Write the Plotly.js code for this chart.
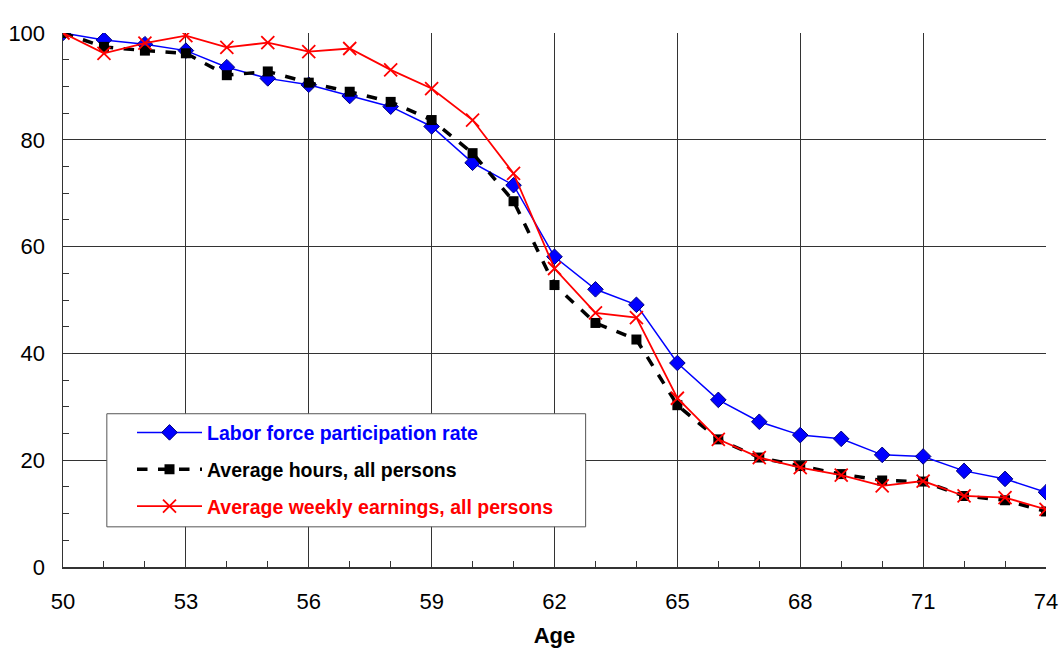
<!DOCTYPE html>
<html><head><meta charset="utf-8">
<script src="https://cdn.plot.ly/plotly-3.0.1.min.js"></script>
<style>html,body{margin:0;padding:0;background:#fff}#chart{width:1060px;height:654px}</style>
</head><body><div id="chart"></div>
<script>
const ages = [50,51,52,53,54,55,56,57,58,59,60,61,62,63,64,65,66,67,68,69,70,71,72,73,74];
const laborForce = [100,98.7,97.9,96.7,93.6,91.5,90.3,88.2,86.2,82.5,75.7,71.5,58.1,52.0,49.1,38.2,31.3,27.2,24.7,24.0,21.0,20.7,18.0,16.5,14.0];
const avgHours = [100,97.4,96.7,96.2,92.1,92.8,90.7,89.0,87.1,83.7,77.5,68.5,52.8,45.7,42.6,30.3,23.9,20.5,18.9,17.4,16.2,16.0,13.3,12.5,10.4];
const avgEarnings = [100,96.2,98.1,99.5,97.3,98.2,96.5,97.1,93.1,89.6,83.7,73.7,55.9,47.6,46.7,31.6,23.9,20.5,18.6,17.2,15.2,16.1,13.3,13.0,10.8];
const names = ['Labor force participation rate','Average hours, all persons','Average weekly earnings, all persons'];
const xTicks = [50,53,56,59,62,65,68,71,74];

const traces = [
 {x: ages, y: laborForce, type:'scatter', mode:'lines+markers', legendgroup:'a',
  name:'<span style="color:#0000ff"><b>'+names[0]+'</b></span>',
  line:{color:'#0000ff', width:1.5},
  marker:{symbol:'diamond', size:12, color:'#0000ff', line:{color:'#00007a', width:1}}},
 {x: ages, y: avgHours, type:'scatter', mode:'lines+markers', legendgroup:'b',
  name:'<span style="color:#000000"><b>'+names[1]+'</b></span>',
  line:{color:'#000000', width:3.5, dash:'dash'},
  marker:{symbol:'square', size:10, color:'#000000'}},
 {x: ages, y: avgEarnings, type:'scatter', mode:'lines+markers', legendgroup:'c',
  name:'<span style="color:#ff0000"><b>'+names[2]+'</b></span>',
  line:{color:'#ff0000', width:1.8},
  marker:{symbol:'x-thin', size:13, color:'#ff0000', line:{color:'#ff0000', width:1.8}}}
];

const layout = {
 width:1060, height:654,
 margin:{l:63, r:14, t:33, b:87},
 paper_bgcolor:'#fff', plot_bgcolor:'#fff',
 font:{family:'"Liberation Sans", Arial, sans-serif', size:22, color:'#000'},
 showlegend:true,
 legend:{x:0.0702, y:0.288, xanchor:'left', yanchor:'top', bgcolor:'rgba(0,0,0,0)',
   borderwidth:0, font:{size:19.5},
   tracegroupgap:8.5, itemwidth:65},
 shapes:[{type:'rect', xref:'x', yref:'y', x0:51.07, x1:62.76, y0:7.52, y1:28.7,
   line:{color:'#555', width:1}, fillcolor:'#fff', layer:'above'}],
 xaxis:{range:[50,74], tickmode:'array', tickvals:xTicks, ticktext:xTicks.map(String),
   showgrid:true, gridcolor:'#333', gridwidth:1, zeroline:false,
   showline:true, linecolor:'#333', linewidth:1.5,
   ticks:'inside', ticklen:6, tickcolor:'#333', ticklabelstandoff:14,
   minor:{dtick:1, tick0:50, ticks:'inside', ticklen:6, tickcolor:'#333', showgrid:false},
   title:{text:'<b>Age</b>', font:{size:22}, standoff:14}},
 yaxis:{range:[0,100], dtick:20, showgrid:true, gridcolor:'#333', gridwidth:1, zeroline:false,
   showline:true, linecolor:'#333', linewidth:1.5,
   ticks:'inside', ticklen:6, tickcolor:'#333', ticklabelstandoff:12,
   minor:{dtick:5, ticks:'inside', ticklen:6, tickcolor:'#333', showgrid:false}}
};
Plotly.newPlot('chart', traces, layout, {displayModeBar:false, staticPlot:true});
</script></body></html>
